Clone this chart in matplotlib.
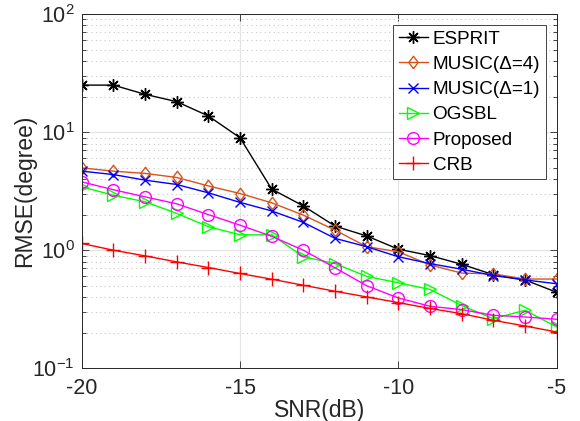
import matplotlib; matplotlib.use("Agg")
import matplotlib.pyplot as plt, numpy as np
from matplotlib.ticker import LogLocator, NullFormatter

plt.rcParams["font.family"] = ["Liberation Sans", "DejaVu Sans"]
plt.rcParams["mathtext.fontset"] = "custom"
plt.rcParams["mathtext.rm"] = "Liberation Sans"
plt.rcParams["axes.unicode_minus"] = False

snr = np.arange(-20, -4)
esprit = [25, 25, 20.9, 18.1, 13.7, 8.95, 3.29, 2.37, 1.6, 1.32, 1.02, 0.9, 0.76, 0.62, 0.56, 0.44]
music4 = [4.98, 4.67, 4.47, 4.13, 3.5, 3.02, 2.52, 1.98, 1.48, 1.07, 0.97, 0.75, 0.64, 0.63, 0.57, 0.57]
music1 = [4.67, 4.37, 3.92, 3.6, 3.06, 2.54, 2.15, 1.72, 1.26, 1.07, 0.88, 0.77, 0.69, 0.61, 0.56, 0.52]
ogsbl = [3.44, 2.92, 2.57, 2.05, 1.58, 1.35, 1.35, 0.88, 0.77, 0.60, 0.53, 0.465, 0.34, 0.263, 0.31, 0.224]
proposed = [3.79, 3.25, 2.83, 2.47, 2.0, 1.63, 1.31, 1.0, 0.71, 0.5, 0.394, 0.335, 0.314, 0.281, 0.272, 0.26]
crb = [1.14, 1.0, 0.895, 0.796, 0.713, 0.635, 0.568, 0.505, 0.449, 0.402, 0.36, 0.321, 0.29, 0.255, 0.228, 0.203]

diamond = [(0, -1), (0.75, 0), (0, 1), (-0.75, 0), (0, -1)]
series = [
    (esprit, "ESPRIT", "#000000", (8, 2, 0), 9),
    (music4, "MUSIC(\u0394=4)", "#D95319", diamond, 9),
    (music1, "MUSIC(\u0394=1)", "#0000FF", "x", 7),
    (ogsbl, "OGSBL", "#00FF00", ">", 9),
    (proposed, "Proposed", "#FF00FF", "o", 8.5),
    (crb, "CRB", "#FF0000", "+", 9.5),
]

fig = plt.figure(figsize=(5.8, 4.21), dpi=100)
ax = fig.add_axes([0.1409, 0.1252, 0.8189, 0.8415])
for y, lab, c, m, ms in series:
    ax.plot(snr, y, color=c, marker=m, markersize=ms, markerfacecolor="none",
            markeredgecolor=c, markeredgewidth=1.0, linewidth=1.0, label=lab)

ax.set_yscale("log")
ax.set_xlim(-20, -5); ax.set_ylim(0.1, 100)
ax.set_xticks([-20, -15, -10, -5])
ax.yaxis.set_major_locator(LogLocator(base=10, numticks=10))
ax.yaxis.set_minor_locator(LogLocator(base=10, subs=np.arange(2, 10), numticks=10))
ax.yaxis.set_minor_formatter(NullFormatter())

ax.grid(True, which="major", color="#e3e3e3", linewidth=0.8, linestyle="-")
ax.grid(True, which="minor", axis="y", color="#c8c8c8", linewidth=0.8, linestyle=(0, (1, 3)))
ax.set_axisbelow(True)

ax.tick_params(which="both", direction="in", top=True, right=True, colors="#262626",
               labelsize=15.5, width=0.6)
ax.tick_params(which="major", length=5)
ax.tick_params(which="minor", length=3)
ax.tick_params(axis="x", pad=7)
ax.tick_params(axis="y", pad=5)
for sp in ax.spines.values():
    sp.set_color("#262626"); sp.set_linewidth(0.7)

ax.set_xlabel("SNR(dB)", fontsize=16.5, color="#262626", labelpad=0)
ax.set_ylabel("RMSE(degree)", fontsize=16.5, color="#262626", labelpad=-3)

leg = ax.legend(loc="upper right", bbox_to_anchor=(0.977, 0.969), fontsize=13.6,
                fancybox=False, framealpha=1, edgecolor="#262626", handlelength=1.55,
                handletextpad=0.25, labelspacing=0.42, borderpad=0.3, borderaxespad=0)
leg.get_frame().set_linewidth(0.6)

fig.savefig("out.png", dpi=100)
